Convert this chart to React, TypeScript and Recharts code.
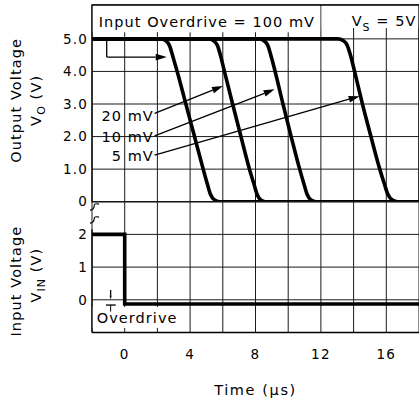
import React from "react";
import {
  LineChart,
  Line,
  XAxis,
  YAxis,
  CartesianGrid,
  ReferenceLine,
  ReferenceArea,
  ReferenceDot,
} from "recharts";

type Pt = [number, number];

// time axis (µs)
const timeTicks = [0, 2, 4, 6, 8, 10, 12, 14, 16, 18];
const labeledTimes = [0, 4, 8, 12, 16];
const outputTicks = [0, 1, 2, 3, 4, 5];
const inputTicks = [0, 1, 2];

// output voltage responses (t µs, V volts), one per input overdrive
const resp100mV: Pt[] = [[-2, 5], [2.2, 5], [2.5, 4.95], [2.75, 4.78], [2.95, 4.45], [3.21, 4.0], [3.74, 3.0], [4.27, 2.0], [4.8, 1.0], [5.05, 0.55], [5.25, 0.22], [5.5, 0.05], [5.8, 0], [18, 0]];
const resp20mV: Pt[] = [[-2, 5], [5.15, 5], [5.42, 4.95], [5.68, 4.79], [5.87, 4.47], [6.1, 4.0], [6.6, 3.0], [7.11, 2.0], [7.63, 1.0], [7.9, 0.55], [8.1, 0.22], [8.33, 0.05], [8.6, 0], [18, 0]];
const resp10mV: Pt[] = [[-2, 5], [8.22, 5], [8.5, 4.95], [8.76, 4.79], [8.96, 4.46], [9.2, 4.0], [9.68, 3.0], [10.18, 2.0], [10.7, 1.0], [10.96, 0.55], [11.16, 0.22], [11.4, 0.05], [11.7, 0], [18, 0]];
const resp5mV: Pt[] = [[-2, 5], [13.05, 5], [13.35, 4.95], [13.62, 4.79], [13.83, 4.46], [14.06, 4.0], [14.54, 3.0], [15.06, 2.0], [15.6, 1.0], [15.88, 0.55], [16.1, 0.22], [16.38, 0.05], [16.7, 0], [18, 0]];

// input step: 2 V, then 100 mV overdrive below 0
const inputStep: Pt[] = [[-2, 2], [0, 2], [0, -0.13], [18, -0.13]];

const pointers = [
  { label: "20 mV", at: [1.78, 2.47], from: [1.83, 2.71], to: [6.01, 3.55] },
  { label: "10 mV", at: [1.78, 1.84], from: [1.83, 2.02], to: [9.17, 3.45] },
  { label: "5 mV", at: [1.78, 1.26], from: [1.83, 1.43], to: [14.37, 3.24] },
];

const rows = (pts: Pt[]) => pts.map(([t, v]) => ({ t, v }));
const responses = [resp100mV, resp20mV, resp10mV, resp5mV].map(rows);

const FONT = "DejaVu Sans";
const tickStyle = { fill: "#000", fontSize: 13.5, letterSpacing: 1.2, fontFamily: FONT };
const GRID = "#1a1a1a";

function Arrow(props: any) {
  const { x1, y1, x2, y2 } = props;
  const head = props.head ?? 11;
  const a = Math.atan2(y2 - y1, x2 - x1);
  const bx = x2 - head * Math.cos(a);
  const by = y2 - head * Math.sin(a);
  const w = head * 0.3;
  const px = -Math.sin(a) * w;
  const py = Math.cos(a) * w;
  return (
    <g>
      <line x1={x1} y1={y1} x2={bx} y2={by} stroke="#000" strokeWidth={1.3} />
      <polygon points={`${x2},${y2} ${bx + px},${by + py} ${bx - px},${by - py}`} fill="#000" />
    </g>
  );
}

const note = (content: React.ReactNode, anchor: "start" | "end" = "start", size = 14.5) =>
  (p: any) => (
    <text x={p.cx} y={p.cy} textAnchor={anchor} fontSize={size} letterSpacing={1.05} fill="#000" fontFamily={FONT}>
      {content}
    </text>
  );

function AxisTitle({ viewBox, main, sub, shift1, shift2 }: any) {
  const vb = viewBox || { x: 0, y: 0, width: 92, height: 200 };
  const cy = vb.y + vb.height / 2;
  const y1 = cy + shift1;
  const y2 = cy + shift2;
  return (
    <g fontFamily={FONT} fontSize={14.5} fill="#000" letterSpacing={1.1}>
      <text x={21} y={y1} textAnchor="middle" transform={`rotate(-90 21 ${y1})`}>{main}</text>
      <text x={41} y={y2} textAnchor="middle" transform={`rotate(-90 41 ${y2})`}>
        V<tspan dy={4} fontSize={11}>{sub}</tspan>
        <tspan dy={-4}> (V)</tspan>
      </text>
    </g>
  );
}

function Squiggle(p: any) {
  const { cx, cy } = p;
  return (
    <g fill="none" stroke="#000" strokeWidth={1.2}>
      <path d={`M${cx + 7} ${cy - 10} C${cx - 2} ${cy - 12} ${cx + 6} ${cy - 5} ${cx - 2} ${cy - 4}`} />
      <path d={`M${cx + 7} ${cy + 3} C${cx - 2} ${cy + 1} ${cx + 6} ${cy + 8} ${cx - 2} ${cy + 9}`} />
    </g>
  );
}

function OutputPanel() {
  return (
    <LineChart width={419} height={210} margin={{ top: 5, right: 0, bottom: 8.3, left: 0 }}>
      <CartesianGrid stroke={GRID} strokeWidth={1} />
      <XAxis type="number" dataKey="t" domain={[-2, 18]} ticks={timeTicks} hide allowDataOverflow />
      <YAxis
        type="number"
        domain={[0, 6.04]}
        ticks={outputTicks}
        interval={0}
        width={92}
        axisLine={false}
        tickLine={false}
        tickSize={0}
        tickMargin={4}
        tick={tickStyle}
        tickFormatter={(v: number) => (v === 0 ? "0" : v.toFixed(1))}
        allowDataOverflow
        label={{ content: (p: any) => <AxisTitle viewBox={p.viewBox} main="Output Voltage" sub="O" shift1={-3} shift2={-3} /> }}
      />
      <ReferenceArea x1={-2} x2={11.95} y1={5.2} y2={6.04} fill="#fff" fillOpacity={1} stroke="none" />
      <ReferenceArea x1={12.05} x2={18} y1={5.33} y2={6.04} fill="#fff" fillOpacity={1} stroke="none" />
      <ReferenceArea x1={-2} x2={18} y1={0} y2={6.04} fill="none" fillOpacity={0} stroke="#000" strokeWidth={1.3} />
      {responses.map((d, i) => (
        <Line
          key={i}
          data={d}
          dataKey="v"
          type="monotone"
          stroke="#000"
          strokeWidth={3.6}
          dot={false}
          isAnimationActive={false}
        />
      ))}
      <ReferenceLine segment={[{ x: -1.1, y: 5 }, { x: -1.1, y: 4.44 }]} stroke="#000" strokeWidth={1.3} />
      <ReferenceLine segment={[{ x: -1.1, y: 4.44 }, { x: 2.57, y: 4.44 }]} shape={(p: any) => <Arrow {...p} />} />
      {pointers.map((a) => (
        <ReferenceLine
          key={a.label}
          segment={[{ x: a.from[0], y: a.from[1] }, { x: a.to[0], y: a.to[1] }]}
          shape={(p: any) => <Arrow {...p} />}
        />
      ))}
      {pointers.map((a) => (
        <ReferenceDot key={"t" + a.label} x={a.at[0]} y={a.at[1]} r={0} shape={note(a.label, "end")} />
      ))}
      <ReferenceDot x={-1.59} y={5.37} r={0} shape={note("Input Overdrive = 100 mV")} />
      <ReferenceDot
        x={13.88}
        y={5.39}
        r={0}
        shape={note(
          <>
            V<tspan dy={5} fontSize={11}>S</tspan>
            <tspan dy={-5}> = 5V</tspan>
          </>
        )}
      />
    </LineChart>
  );
}

function InputPanel() {
  return (
    <LineChart width={419} height={210} margin={{ top: 5.7, right: 0, bottom: 0, left: 0 }}>
      <CartesianGrid stroke={GRID} strokeWidth={1} />
      <XAxis
        type="number"
        dataKey="t"
        domain={[-2, 18]}
        ticks={timeTicks}
        interval={0}
        height={73.5}
        axisLine={false}
        tickLine={false}
        tickSize={0}
        tickMargin={17}
        tick={tickStyle}
        tickFormatter={(v: number) => (labeledTimes.includes(v) ? String(v) : "")}
        allowDataOverflow
        label={{ value: "Time (µs)", position: "insideBottom", offset: 11, fill: "#000", fontSize: 14.5, letterSpacing: 1.6, fontFamily: FONT }}
      />
      <YAxis
        type="number"
        domain={[-1, 3]}
        ticks={inputTicks}
        interval={0}
        width={92}
        axisLine={false}
        tickLine={false}
        tickSize={0}
        tickMargin={4}
        tick={tickStyle}
        allowDataOverflow
        label={{ content: (p: any) => <AxisTitle viewBox={p.viewBox} main="Input Voltage" sub="IN" shift1={14} shift2={8} /> }}
      />
      <ReferenceArea x1={-2} x2={3.4} y1={-0.86} y2={-0.22} fill="#fff" fillOpacity={1} stroke="none" />
      <ReferenceLine y={-1} stroke="#000" strokeWidth={1.3} />
      <ReferenceLine segment={[{ x: -2, y: -1 }, { x: -2, y: 2.15 }]} stroke="#000" strokeWidth={1.3} />
      <Line
        data={rows(inputStep)}
        dataKey="v"
        type="linear"
        stroke="#000"
        strokeWidth={3.6}
        dot={false}
        isAnimationActive={false}
      />
      <ReferenceDot x={-2} y={2.62} r={0} ifOverflow="visible" shape={(p: any) => <Squiggle {...p} />} />
      <ReferenceLine segment={[{ x: -0.86, y: 0.3 }, { x: -0.86, y: 0.01 }]} shape={(p: any) => <Arrow {...p} head={4} />} />
      <ReferenceLine segment={[{ x: -1.15, y: -0.16 }, { x: -0.55, y: -0.16 }]} stroke="#000" strokeWidth={1.3} />
      <ReferenceLine segment={[{ x: -0.86, y: -0.36 }, { x: -0.86, y: -0.16 }]} stroke="#000" strokeWidth={1} />
      <ReferenceDot x={-1.71} y={-0.72} r={0} shape={note("Overdrive")} />
    </LineChart>
  );
}

export default function App() {
  return (
    <div
      style={{
        position: "absolute",
        left: 0,
        top: 0,
        width: 419,
        height: 406,
        background: "#fff",
        fontFamily: FONT,
      }}
    >
      <div style={{ position: "absolute", left: 0, top: 0 }}>
        <OutputPanel />
      </div>
      <div style={{ position: "absolute", left: 0, top: 196 }}>
        <InputPanel />
      </div>
    </div>
  );
}
